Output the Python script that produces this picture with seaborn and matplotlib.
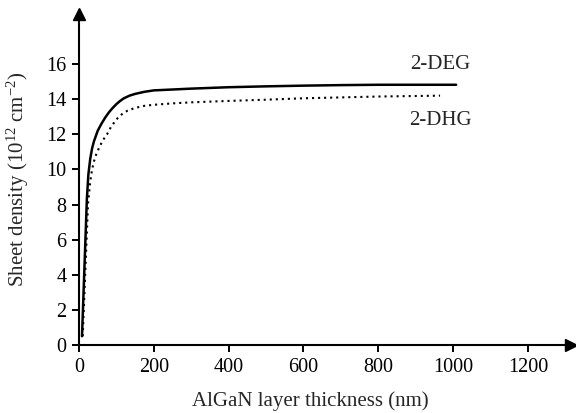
import matplotlib
matplotlib.use("Agg")
import matplotlib.pyplot as plt
import seaborn as sns
import pandas as pd

# AlGaN barrier thickness (nm) and sheet carrier density (1e12 cm^-2)
deg_thickness = [8, 21, 25, 30, 35, 40, 50, 60, 70, 80, 90, 100, 110, 120,
                 135, 150, 175, 200, 250, 300, 400, 500, 600, 700, 800, 900,
                 1008]
deg_density = [0.5, 8.3, 9.7, 10.6, 11.2, 11.6, 12.2, 12.6, 12.95, 13.25,
               13.5, 13.72, 13.9, 14.05, 14.2, 14.3, 14.42, 14.5, 14.55,
               14.6, 14.68, 14.73, 14.77, 14.8, 14.82, 14.82, 14.82]

dhg_thickness = [10, 24, 30, 35, 40, 45, 55, 65, 75, 85, 100, 115, 130, 150,
                 175, 200, 250, 300, 400, 500, 600, 700, 800, 900, 965]
dhg_density = [0.5, 8.0, 9.3, 10.0, 10.45, 10.8, 11.3, 11.7, 12.0, 12.4,
               12.85, 13.15, 13.35, 13.5, 13.62, 13.68, 13.76, 13.82, 13.9,
               13.97, 14.05, 14.1, 14.15, 14.18, 14.2]

x_ticks = [0, 200, 400, 600, 800, 1000, 1200]
y_ticks = [0, 2, 4, 6, 8, 10, 12, 14, 16]

sns.set_style("ticks")
plt.rcParams["font.family"] = ["Liberation Serif", "DejaVu Serif"]
plt.rcParams["mathtext.fontset"] = "custom"
plt.rcParams["mathtext.rm"] = "Liberation Serif"
plt.rcParams["mathtext.default"] = "regular"

fig = plt.figure(figsize=(5.76, 4.13), dpi=100)
W, H = 576, 413
left, right, bottom, top = 79, 571, 345, 14
ax = fig.add_axes([left / W, 1 - bottom / H, (right - left) / W, (bottom - top) / H])

deg = pd.DataFrame({"t": deg_thickness, "n": deg_density})
dhg = pd.DataFrame({"t": dhg_thickness, "n": dhg_density})

sns.lineplot(data=deg, x="t", y="n", ax=ax, color="black", lw=1.8,
             estimator=None, sort=False)
sns.lineplot(data=dhg, x="t", y="n", ax=ax, color="black", lw=1.5,
             linestyle=(0, (1, 1.9)), estimator=None, sort=False)

ax.set_xlim(0, 1315)
ax.set_ylim(0, 18.85)
ax.set_xticks(x_ticks)
ax.set_yticks(y_ticks)
ax.tick_params(axis="both", labelsize=14.5, length=5, width=1.4, color="black",
               labelcolor="black", pad=4, direction="out")

for side in ("top", "right"):
    ax.spines[side].set_visible(False)
for side in ("left", "bottom"):
    ax.spines[side].set_linewidth(1.5)
    ax.spines[side].set_color("black")

# arrow heads at the ends of both axes
ax.plot(1, 0, ">", color="black", ms=9, transform=ax.transAxes, clip_on=False)
ax.plot(0, 1, "^", color="black", ms=9, transform=ax.transAxes, clip_on=False)

ax.text(965, 16.0, "2-DEG", fontsize=15, ha="center", va="center")
ax.text(965, 12.8, "2-DHG", fontsize=15, ha="center", va="center")

ax.set_xlabel("AlGaN layer thickness (nm)", fontsize=15)
ax.set_ylabel("Sheet density (10$^{12}$ cm$^{-2}$)", fontsize=15)
ax.xaxis.set_label_coords(0.47, -0.14)
ax.yaxis.set_label_coords(-0.097, 0.5)

fig.savefig("out.png", dpi=100)
